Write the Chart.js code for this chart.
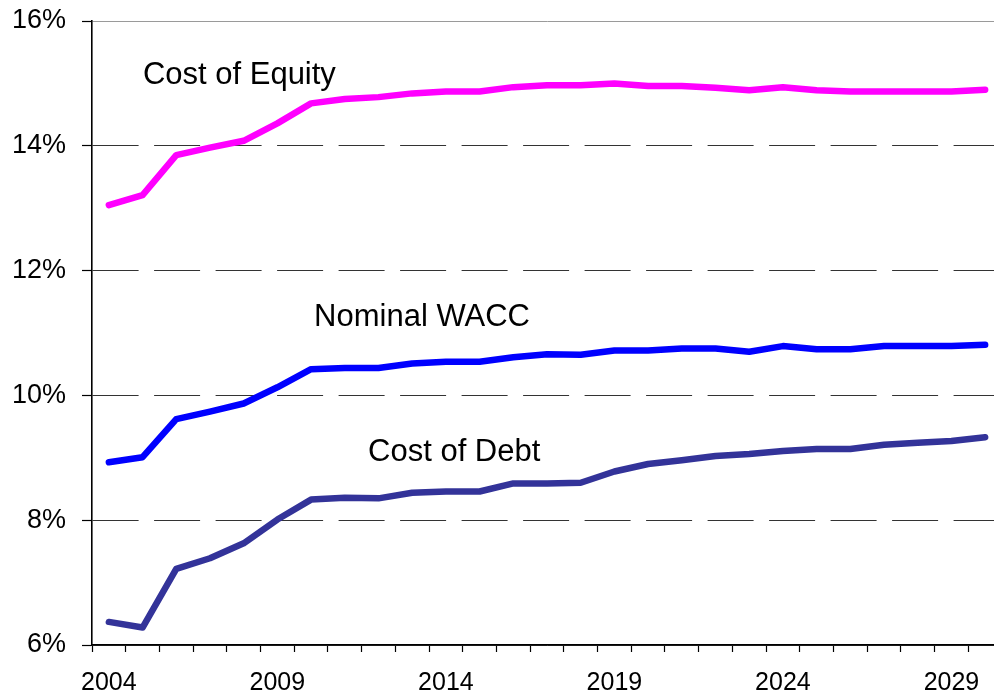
<!DOCTYPE html>
<html>
<head>
<meta charset="utf-8">
<script src="https://cdn.jsdelivr.net/npm/chart.js@4"></script>
<style>
  html, body { margin: 0; padding: 0; background: #ffffff; overflow: hidden; }
  #wrap { position: absolute; left: 0; top: 0; width: 1010px; height: 694px; }
</style>
</head>
<body>
<div id="wrap"><canvas id="c" width="1010" height="694"></canvas></div>
<script>
// ---- data ----
const years = [2004,2005,2006,2007,2008,2009,2010,2011,2012,2013,2014,2015,2016,2017,2018,2019,2020,2021,2022,2023,2024,2025,2026,2027,2028,2029,2030];
const shownYears = [2004, 2009, 2014, 2019, 2024, 2029];
const costOfEquity = [13.05,13.21,13.85,13.97,14.08,14.36,14.68,14.75,14.78,14.84,14.87,14.87,14.94,14.97,14.97,15.00,14.96,14.96,14.93,14.89,14.94,14.89,14.87,14.87,14.87,14.87,14.90];
const nominalWACC  = [8.93,9.01,9.62,9.74,9.87,10.13,10.42,10.44,10.44,10.51,10.54,10.54,10.61,10.66,10.65,10.72,10.72,10.75,10.75,10.70,10.79,10.74,10.74,10.79,10.79,10.79,10.81];
const costOfDebt   = [6.37,6.28,7.22,7.39,7.63,8.01,8.33,8.36,8.35,8.44,8.46,8.46,8.59,8.59,8.60,8.78,8.90,8.96,9.03,9.06,9.11,9.14,9.14,9.21,9.24,9.27,9.33];
const yTicks = [6, 8, 10, 12, 14, 16];
// text labels placed in data units (category index, percent)
const seriesLabels = [
  { text: 'Cost of Equity', x: 1.01, y: 15.12 },
  { text: 'Nominal WACC',   x: 6.09, y: 11.25 },
  { text: 'Cost of Debt',   x: 7.69, y: 9.09 }
];

const FONT = '"Liberation Sans", Arial, sans-serif';

const labelPlugin = {
  id: 'seriesLabels',
  afterDatasetsDraw(chart) {
    const { ctx, scales: { x, y } } = chart;
    ctx.save();
    ctx.font = '31px ' + FONT;
    ctx.fillStyle = '#000000';
    ctx.textAlign = 'left';
    ctx.textBaseline = 'middle';
    seriesLabels.forEach(l => {
      ctx.fillText(l.text, x.getPixelForValue(l.x), y.getPixelForValue(l.y));
    });
    ctx.restore();
  }
};

const mkSet = (label, data, color) => ({
  label, data,
  borderColor: color, backgroundColor: color,
  borderWidth: 6.5, pointRadius: 0, tension: 0,
  borderCapStyle: 'round', borderJoinStyle: 'round',
  fill: false
});

new Chart(document.getElementById('c'), {
  type: 'line',
  data: {
    labels: years.map(String),
    datasets: [
      mkSet('Cost of Equity', costOfEquity, '#FF00FF'),
      mkSet('Nominal WACC', nominalWACC, '#0000FF'),
      mkSet('Cost of Debt', costOfDebt, '#333399')
    ]
  },
  options: {
    responsive: false,
    animation: false,
    devicePixelRatio: 1,
    layout: { padding: { left: 0, right: 8, top: 21, bottom: 0 } },
    plugins: { legend: { display: false }, tooltip: { enabled: false } },
    scales: {
      x: {
        type: 'category',
        offset: true,
        grid: { offset: true, drawOnChartArea: false, drawTicks: true, tickLength: 7, tickColor: '#000000', tickWidth: 1.2 },
        border: { display: true, color: '#000000', width: 1.6 },
        ticks: {
          autoSkip: false, maxRotation: 0, minRotation: 0, padding: 16,
          color: '#000000', font: { family: FONT, size: 25 },
          callback: function(v, i) { const yr = years[i]; return shownYears.includes(yr) ? String(yr) : ''; }
        },
        afterFit(s) { s.height = 49; s.paddingLeft = 0; s.paddingRight = 0; }
      },
      y: {
        min: 6, max: 16,
        afterBuildTicks(s) { s.ticks = yTicks.map(v => ({ value: v })); },
        grid: {
          drawOnChartArea: true, drawTicks: true, tickLength: 10,
          color: (c) => (c.tick && c.tick.value === 16) ? '#9a9a9a' : '#333333',
          lineWidth: 1,
          tickColor: '#000000', tickWidth: 1.2
        },
        border: {
          display: true, color: '#000000', width: 1.6,
          dash: (c) => (c.tick && c.tick.value > 6 && c.tick.value < 16) ? [46, 15.5] : []
        },
        ticks: {
          padding: 16, color: '#000000', font: { family: FONT, size: 27 },
          callback: (v) => v + '%'
        },
        afterFit(s) { s.width = 92; s.paddingTop = 0; s.paddingBottom = 0; }
      }
    }
  },
  plugins: [labelPlugin]
});
</script>
</body>
</html>
